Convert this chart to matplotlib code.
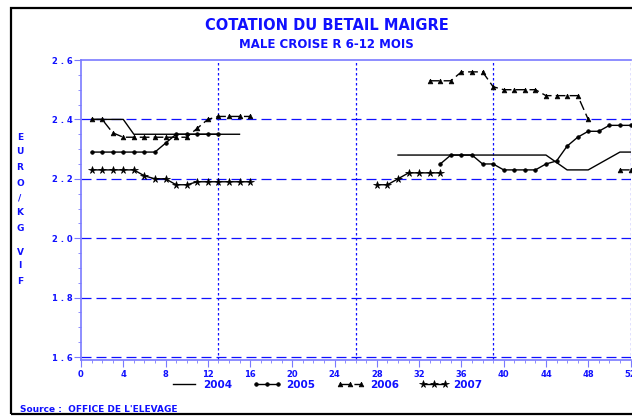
import numpy as np
import matplotlib
matplotlib.use('Agg')
from matplotlib import pyplot as plt
from matplotlib.patches import Rectangle
from matplotlib.lines import Line2D

n = np.nan
weeks = np.arange(1, 53)

# prices (euro / kg vif), one value per week, nan = no quotation
y2004 = [2.40, 2.40, 2.40, 2.40] + [2.35] * 11 + [n] * 14 + [2.28] * 15 + \
        [2.255, 2.23, 2.23, 2.23, 2.25, 2.27, 2.29, 2.29]
y2005 = [2.29] * 7 + [2.32] + [2.35] * 5 + [n] * 20 + \
        [2.25, 2.28, 2.28, 2.28, 2.25, 2.25, 2.23, 2.23, 2.23, 2.23,
         2.25, 2.26, 2.31, 2.34, 2.36, 2.36, 2.38, 2.38, 2.38]
y2006 = [2.40, 2.40, 2.355] + [2.34] * 7 + [2.37, 2.40] + [2.41] * 4 + [n] * 16 + \
        [2.53, 2.53, 2.53, 2.56, 2.56, 2.56, 2.51, 2.50, 2.50, 2.50, 2.50,
         2.48, 2.48, 2.48, 2.48, 2.40, n, n, 2.23, 2.23]
y2007 = [2.23] * 5 + [2.21, 2.20, 2.20, 2.18, 2.18] + [2.19] * 6 + [n] * 11 + \
        [2.18, 2.18, 2.20, 2.22, 2.22, 2.22, 2.22] + [n] * 18

years = ['2004', '2005', '2006', '2007']
series = [y2004, y2005, y2006, y2007]
markers = [None, 'o', '^', '*']
msizes = [0, 2.6, 3.4, 5.5]
lstyles = ['-', '-', (0, (7, 3)), '-']

xticks = list(range(0, 53, 4))
yticks = [1.6, 1.8, 2.0, 2.2, 2.4, 2.6]
ytick_labels = ['1 . 6', '1 . 8', '2 . 0', '2 . 2', '2 . 4', '2 . 6']
hgrid = [1.6, 1.8, 2.0, 2.2, 2.4]
vgrid = [13, 26, 39, 52]

blue = '#1010ff'
axblue = '#7a7aff'

fig = plt.figure(figsize=(6.32, 4.16), dpi=100)
ax = fig.add_axes([81 / 632, 1 - 360 / 416, 549.5 / 632, 300 / 416])

for y in hgrid:
    ax.axhline(y, color=blue, lw=0.9, ls=(0, (8, 4)), zorder=1)
for x in vgrid:
    ax.axvline(x, color=blue, lw=0.9, ls=(0, (2, 2)), zorder=1)

for vals, m, ms, ls in zip(series, markers, msizes, lstyles):
    ax.plot(weeks, vals, color='black', lw=1.0, ls=ls, marker=m, ms=ms,
            markeredgewidth=0.5, zorder=3)

ax.set_xlim(0, 52)
ax.set_ylim(1.59, 2.6)
ax.set_xticks(xticks)
ax.set_xticklabels([str(t) for t in xticks])
ax.set_xticks(range(0, 53), minor=True)
ax.set_yticks(yticks)
ax.set_yticklabels(ytick_labels)
ax.set_yticks(np.arange(1.6, 2.601, 0.05), minor=True)
ax.tick_params(which='major', length=5, color=axblue, labelcolor=blue,
               labelsize=6)
ax.tick_params(which='minor', length=2, color=axblue)
for lab in ax.get_xticklabels() + ax.get_yticklabels():
    lab.set_fontweight('bold')
ax.tick_params(axis='x', pad=2)
ax.tick_params(axis='y', pad=1)

for s in ['left', 'bottom', 'top']:
    ax.spines[s].set_color(axblue)
    ax.spines[s].set_linewidth(1.2)
ax.spines['right'].set_visible(False)

fig.text(0.517, 1 - 26 / 416, 'COTATION DU BETAIL MAIGRE', color=blue,
         fontsize=10.5, fontweight='bold', ha='center', va='center')
fig.text(0.517, 1 - 45 / 416, 'MALE CROISE R 6-12 MOIS', color=blue,
         fontsize=8.5, fontweight='bold', ha='center', va='center')

# vertical axis label, one letter per line
ylab_y = [138, 152, 168, 183, 198, 213, 228, 253, 266, 281]
for ch, yy in zip('EURO/KGVIF', ylab_y):
    fig.text(20 / 632, 1 - yy / 416, ch, color=blue, fontsize=6.5,
             fontweight='bold', ha='center', va='center')

handles = [Line2D([], [], color='black', lw=1.0, ls=ls, marker=m, ms=ms,
                  markeredgewidth=0.5)
           for m, ms, ls in zip(markers, msizes, lstyles)]
leg = fig.legend(handles, years, loc='center', ncol=4, frameon=False,
                 bbox_to_anchor=(326 / 632, 1 - 385 / 416), numpoints=3,
                 handlelength=2.7, handletextpad=0.5, columnspacing=2.0,
                 prop={'size': 7.5, 'weight': 'bold'})
for t in leg.get_texts():
    t.set_color(blue)

fig.text(20 / 632, 1 - 409 / 416, "Source :  OFFICE DE L'ELEVAGE", color=blue,
         fontsize=6.5, fontweight='bold', ha='left', va='center')

fig.patches.append(Rectangle((11 / 632, 1 - 414 / 416), 1.0, 406 / 416,
                             transform=fig.transFigure, fill=False,
                             edgecolor='black', lw=1.6))

fig.savefig('out.png', dpi=100)
